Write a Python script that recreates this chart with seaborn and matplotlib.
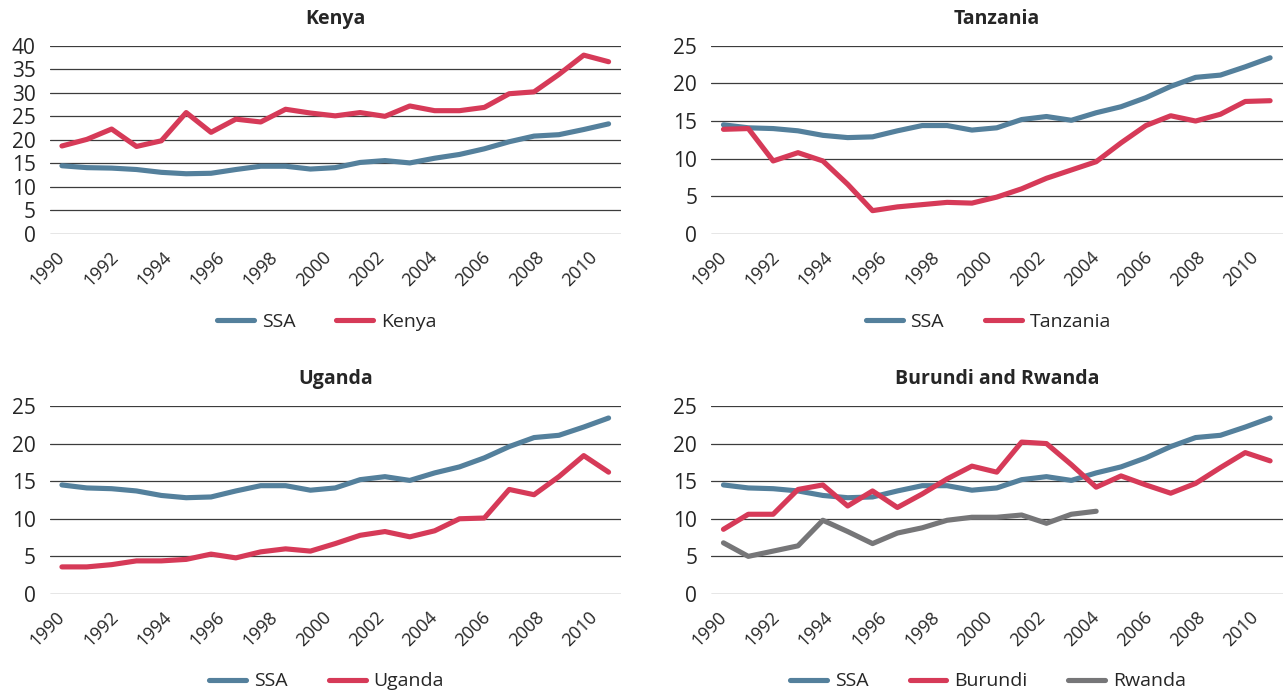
import numpy as np
import pandas as pd
import matplotlib.pyplot as plt
import matplotlib.transforms as mtransforms
import seaborn as sns

# Annual values, 1990-2012
years = list(range(1990, 2013))
ssa = [14.5, 14.1, 14.0, 13.7, 13.1, 12.8, 12.9, 13.7, 14.4, 14.4, 13.8, 14.1,
       15.2, 15.6, 15.1, 16.1, 16.9, 18.1, 19.6, 20.8, 21.1, 22.2, 23.4]
kenya = [18.7, 20.1, 22.3, 18.6, 19.8, 25.8, 21.6, 24.4, 23.8, 26.5, 25.7, 25.1,
         25.8, 25.0, 27.2, 26.2, 26.2, 26.9, 29.8, 30.2, 33.9, 38.0, 36.6]
tanzania = [13.9, 14.0, 9.7, 10.8, 9.7, 6.6, 3.1, 3.6, 3.9, 4.2, 4.1, 4.9,
            6.0, 7.4, 8.5, 9.6, 12.1, 14.4, 15.7, 15.0, 15.9, 17.6, 17.7]
uganda = [3.6, 3.6, 3.9, 4.4, 4.4, 4.6, 5.3, 4.8, 5.6, 6.0, 5.7, 6.7,
          7.8, 8.3, 7.6, 8.4, 10.0, 10.1, 13.9, 13.2, 15.6, 18.4, 16.2]
burundi = [8.6, 10.6, 10.6, 13.9, 14.5, 11.7, 13.7, 11.5, 13.3, 15.3, 17.0, 16.2,
           20.2, 20.0, 17.2, 14.2, 15.7, 14.5, 13.4, 14.7, 16.8, 18.8, 17.7]
rwanda = [6.8, 5.0, 5.7, 6.4, 9.8, 8.3, 6.7, 8.1, 8.8, 9.8, 10.2, 10.2,
          10.5, 9.4, 10.6, 11.0] + [np.nan] * 7

tick_years = list(range(1990, 2011, 2))

colors = {'SSA': '#54809C', 'Kenya': '#D63A58', 'Tanzania': '#D63A58',
          'Uganda': '#D63A58', 'Burundi': '#D63A58', 'Rwanda': '#767678'}

sns.set_theme(style='white')
plt.rcParams['font.family'] = ['Open Sans', 'DejaVu Sans']

fig = plt.figure(figsize=(12.86, 6.96), dpi=100)

# panel boxes in figure fractions: left, bottom, width, height
panels = [
    ('Kenya', {'SSA': ssa, 'Kenya': kenya}, 40, [0.0385, 0.6638, 0.4444, 0.2705]),
    ('Tanzania', {'SSA': ssa, 'Tanzania': tanzania}, 25, [0.5529, 0.6638, 0.4444, 0.2705]),
    ('Uganda', {'SSA': ssa, 'Uganda': uganda}, 25, [0.0385, 0.1466, 0.4444, 0.2701]),
    ('Burundi and Rwanda', {'SSA': ssa, 'Burundi': burundi, 'Rwanda': rwanda}, 25,
     [0.5529, 0.1466, 0.4444, 0.2701]),
]

for title, series, ymax, box in panels:
    ax = fig.add_axes(box)
    df = pd.DataFrame({'year': years, **series}).melt('year', var_name='series', value_name='value')
    df = df.dropna()
    names = list(series.keys())
    sns.lineplot(data=df, x='year', y='value', hue='series', hue_order=names,
                 palette=[colors[n] for n in names], linewidth=3.7, ax=ax)
    ax.set_xlim(1989.5, 2012.5)
    ax.set_ylim(0, ymax)
    ax.set_yticks(range(0, ymax + 1, 5))
    ax.set_xticks(tick_years)
    ax.tick_params(axis='y', labelsize=15, pad=10, length=0)
    ax.tick_params(axis='x', pad=10, length=0)
    ax.set_xticklabels([str(y) for y in tick_years], rotation=45, ha='right',
                       rotation_mode='anchor', fontsize=13)
    # the labels in the original are spread slightly wider than the data points
    for yr, lab in zip(tick_years, ax.get_xticklabels()):
        dx = (-6 + 1.75 * (yr - 1990)) / 100
        lab.set_transform(lab.get_transform() +
                          mtransforms.ScaledTranslation(dx, 0, fig.dpi_scale_trans))
    ax.yaxis.grid(True, color='#3c3c3c', linewidth=0.9)
    ax.set_axisbelow(True)
    for s in ax.spines.values():
        s.set_visible(False)
    ax.set_xlabel('')
    ax.set_ylabel('')
    ax.set_title(title, fontsize=14, fontweight='bold', pad=16)
    sns.move_legend(ax, 'center', bbox_to_anchor=(0.485, -0.465), ncol=len(names),
                    frameon=False, title=None, fontsize=14, handlelength=1.9,
                    handletextpad=0.4, columnspacing=2.1)

fig.savefig('out.png', dpi=100)
